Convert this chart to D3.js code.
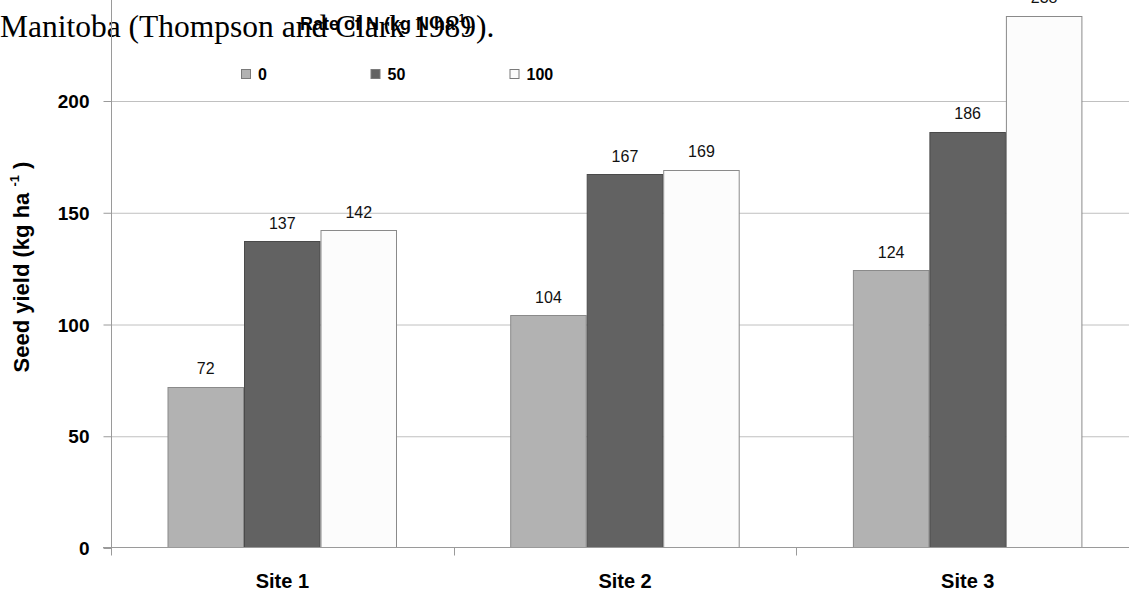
<!DOCTYPE html>
<html>
<head>
<meta charset="utf-8">
<script src="https://cdn.jsdelivr.net/npm/d3@7"></script>
<style>
  html, body { margin: 0; padding: 0; background: #ffffff; }
  svg { display: block; }
</style>
</head>
<body>
<svg id="chart" width="1129" height="593"></svg>
<script>
// ---- data ----
const sites = ["Site 1", "Site 2", "Site 3"];
const rates = ["0", "50", "100"];
const yield0 = [72, 104, 124];
const yield50 = [137, 167, 186];
const yield100 = [142, 169, 238];
const yTicks = [0, 50, 100, 150, 200];
const docText = "Manitoba (Thompson and Clark 1989).";
const legendTitle = "Rate of N (kg N ha";
const yTitle = "Seed yield (kg ha";
// ---------------

const seriesValues = [yield0, yield50, yield100];
const fills = ["#b2b2b2", "#626262", "#fcfcfc"];
const strokes = ["#8a8a8a", "#4a4a4a", "#8a8a8a"];

const svg = d3.select("#chart");
const W = 1129, H = 593;
const x0 = 111, y0 = 547.5;

const y = d3.scaleLinear().domain([0, 200]).range([y0, 100.5]);
const x = d3.scaleBand().domain(sites).range([x0, x0 + 3 * 342.7]).paddingInner(0).paddingOuter(0);
const xs = d3.scaleBand().domain(rates).range([56.5, 56.5 + 229.5]).padding(0);

// gridlines
const grid = svg.append("g").attr("transform", `translate(${x0},0)`)
  .call(d3.axisLeft(y).tickValues(yTicks.filter(v => v > 0)).tickSize(-(W - x0)).tickFormat(""));
grid.select(".domain").remove();
grid.selectAll("line").attr("stroke", "#c0c0c0").attr("stroke-width", 1)
  .attr("transform", "translate(0,0.5)");

// document text (behind chart elements)
svg.append("text")
  .attr("x", 0).attr("y", 37)
  .attr("font-family", "Liberation Serif, 'Times New Roman', serif")
  .attr("font-size", 31.5)
  .attr("fill", "#000")
  .text(docText);

// bars
const groups = svg.append("g").selectAll("g").data(sites).join("g")
  .attr("transform", d => `translate(${x(d)},0)`);

rates.forEach((r, si) => {
  groups.append("rect")
    .attr("x", (d, i) => xs(r) + 0.5)
    .attr("y", (d, i) => Math.round(y(seriesValues[si][i])) + 0.5)
    .attr("width", xs.bandwidth() - 1)
    .attr("height", (d, i) => y0 - Math.round(y(seriesValues[si][i])) - 0.5)
    .attr("fill", fills[si])
    .attr("stroke", strokes[si])
    .attr("stroke-width", 1);
  groups.append("text")
    .attr("x", xs(r) + xs.bandwidth() / 2)
    .attr("y", (d, i) => y(seriesValues[si][i]) - 12.5)
    .attr("text-anchor", "middle")
    .attr("font-family", "Liberation Sans, Arial, sans-serif")
    .attr("font-size", 16)
    .attr("fill", "#111")
    .text((d, i) => seriesValues[si][i]);
});

// y axis
const yAxis = svg.append("g").attr("transform", `translate(${x0 + 0.5},0)`)
  .call(d3.axisLeft(y).tickValues(yTicks).tickSize(8).tickSizeOuter(0).tickPadding(14));
yAxis.select(".domain").attr("d", `M0,0V${y0 + 8}`).attr("stroke", "#9a9a9a");
yAxis.selectAll(".tick line").attr("stroke", "#9a9a9a").attr("transform", "translate(0,0.5)");
yAxis.selectAll(".tick text")
  .attr("font-family", "Liberation Sans, Arial, sans-serif")
  .attr("font-size", 19).attr("font-weight", "bold").attr("fill", "#000")
  .attr("dy", "0.38em");

// x axis baseline
const xAxis = svg.append("g").attr("transform", `translate(0,${y0})`)
  .call(d3.axisBottom(x).tickSize(0).tickPadding(26));
xAxis.select(".domain").attr("d", `M${x0 - 8},0H${W}`).attr("stroke", "#9a9a9a");
xAxis.selectAll(".tick text")
  .attr("font-family", "Liberation Sans, Arial, sans-serif")
  .attr("font-size", 20).attr("font-weight", "bold").attr("fill", "#000");
// category boundary ticks
svg.append("g").selectAll("line").data(sites.slice(1)).join("line")
  .attr("x1", d => Math.round(x(d)) + 0.5).attr("x2", d => Math.round(x(d)) + 0.5)
  .attr("y1", y0).attr("y2", y0 + 8)
  .attr("stroke", "#9a9a9a");

// y axis title
const yt = svg.append("text")
  .attr("transform", "translate(29,267) rotate(-90)")
  .attr("text-anchor", "middle")
  .attr("font-family", "Liberation Sans, Arial, sans-serif")
  .attr("font-size", 22).attr("font-weight", "bold").attr("fill", "#000");
yt.append("tspan").text(yTitle + " ");
yt.append("tspan").attr("font-size", 13).attr("dy", -10).text("-1");
yt.append("tspan").attr("dy", 10).text(" )");

// legend title
const lt = svg.append("text")
  .attr("x", 300).attr("y", 30)
  .attr("font-family", "Liberation Sans, Arial, sans-serif")
  .attr("font-size", 18).attr("font-weight", "bold").attr("fill", "#000");
lt.append("tspan").text(legendTitle);
lt.append("tspan").attr("font-size", 11).attr("dy", -8).text("-1");
lt.append("tspan").attr("dy", 8).text(")");

// legend items
const legendX = [241, 370.5, 509.5];
const leg = svg.append("g").selectAll("g").data(rates).join("g")
  .attr("transform", (d, i) => `translate(${legendX[i]},69)`);
leg.append("rect")
  .attr("x", 0.5).attr("y", 0.5).attr("width", 9).attr("height", 9)
  .attr("fill", (d, i) => fills[i]).attr("stroke", "#7a7a7a");
leg.append("text")
  .attr("x", 17).attr("y", 10.5)
  .attr("font-family", "Liberation Sans, Arial, sans-serif")
  .attr("font-size", 16).attr("font-weight", "bold").attr("fill", "#000")
  .text(d => d);
</script>
</body>
</html>
